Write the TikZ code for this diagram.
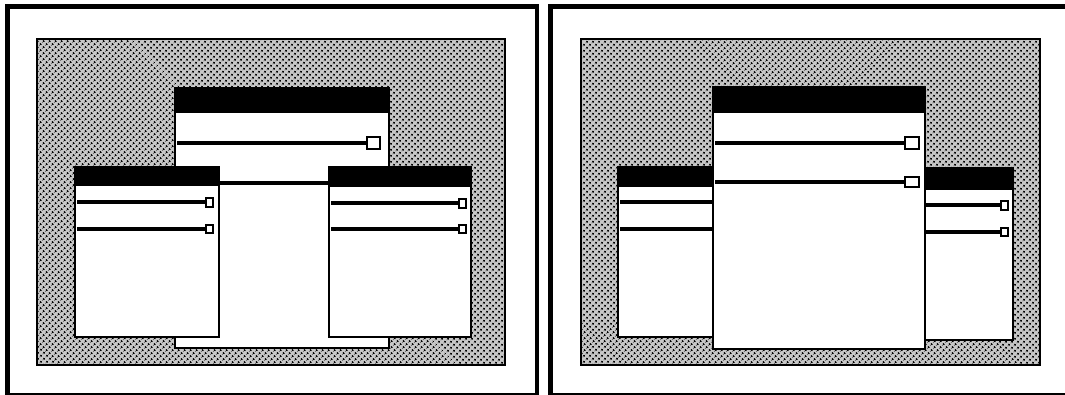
\documentclass[tikz,border=0pt]{standalone}
\usetikzlibrary{patterns.meta}
\begin{document}
\begin{tikzpicture}[x=1pt,y=-1pt,
  frame/.style={draw=black,line width=4.5pt},
  desk/.style={draw=black,line width=2pt,preaction={fill=black!22},pattern={Dots[distance=4pt,radius=1.3pt,angle=45]},pattern color=black},
  win/.style={draw=black,fill=white,line width=2.5pt},
  bar/.style={fill=black},
  slider/.style={draw=black,line width=3.5pt},
  knob/.style={draw=black,fill=white,line width=2pt}]
\useasboundingbox (0,0) rectangle (1065,395);
\fill[white] (0,0) rectangle (1065,395);
% ---------- left panel ----------
\draw[frame] (7.5,6.5) rectangle (537,395.5);
\path[desk] (37,39) rectangle (505,365);
% back window
\path[win] (175,88) rectangle (389,348);
\fill[bar] (175,88) rectangle (389,113);
\draw[slider] (177,143) -- (367,143);
\draw[knob] (367,137) rectangle (380,149);
\draw[slider] (177,183) -- (367,183);
\draw[knob] (367,178) rectangle (380,188);
% left window
\path[win] (75,167) rectangle (219,337);
\fill[bar] (75,167) rectangle (219,186);
\draw[slider] (77,202) -- (206,202);
\draw[knob] (206,198) rectangle (213,207);
\draw[slider] (77,229) -- (206,229);
\draw[knob] (206,225) rectangle (213,233);
% right window
\path[win] (329,167) rectangle (471,337);
\fill[bar] (329,167) rectangle (471,187);
\draw[slider] (331,203) -- (459,203);
\draw[knob] (459,199) rectangle (466,208);
\draw[slider] (331,229) -- (459,229);
\draw[knob] (459,225) rectangle (466,233);
% ---------- right panel ----------
\draw[frame] (550.5,6.5) rectangle (1075,395.5);
\path[desk] (581,39) rectangle (1040,365);
% back left window
\path[win] (618,167) rectangle (763,337);
\fill[bar] (618,167) rectangle (763,187);
\draw[slider] (620,202) -- (750,202);
\draw[slider] (620,229) -- (750,229);
% back right window
\path[win] (868,168) rectangle (1013,340);
\fill[bar] (868,168) rectangle (1013,190);
\draw[slider] (870,205) -- (1001,205);
\draw[knob] (1001,201) rectangle (1008,210);
\draw[slider] (870,232) -- (1001,232);
\draw[knob] (1001,228) rectangle (1008,236);
% front window
\path[win] (713,87) rectangle (925,349);
\fill[bar] (713,87) rectangle (925,113);
\draw[slider] (715,143) -- (905,143);
\draw[knob] (905,137) rectangle (919,149);
\draw[slider] (715,182) -- (905,182);
\draw[knob] (905,177) rectangle (919,187);
\end{tikzpicture}
\end{document}
